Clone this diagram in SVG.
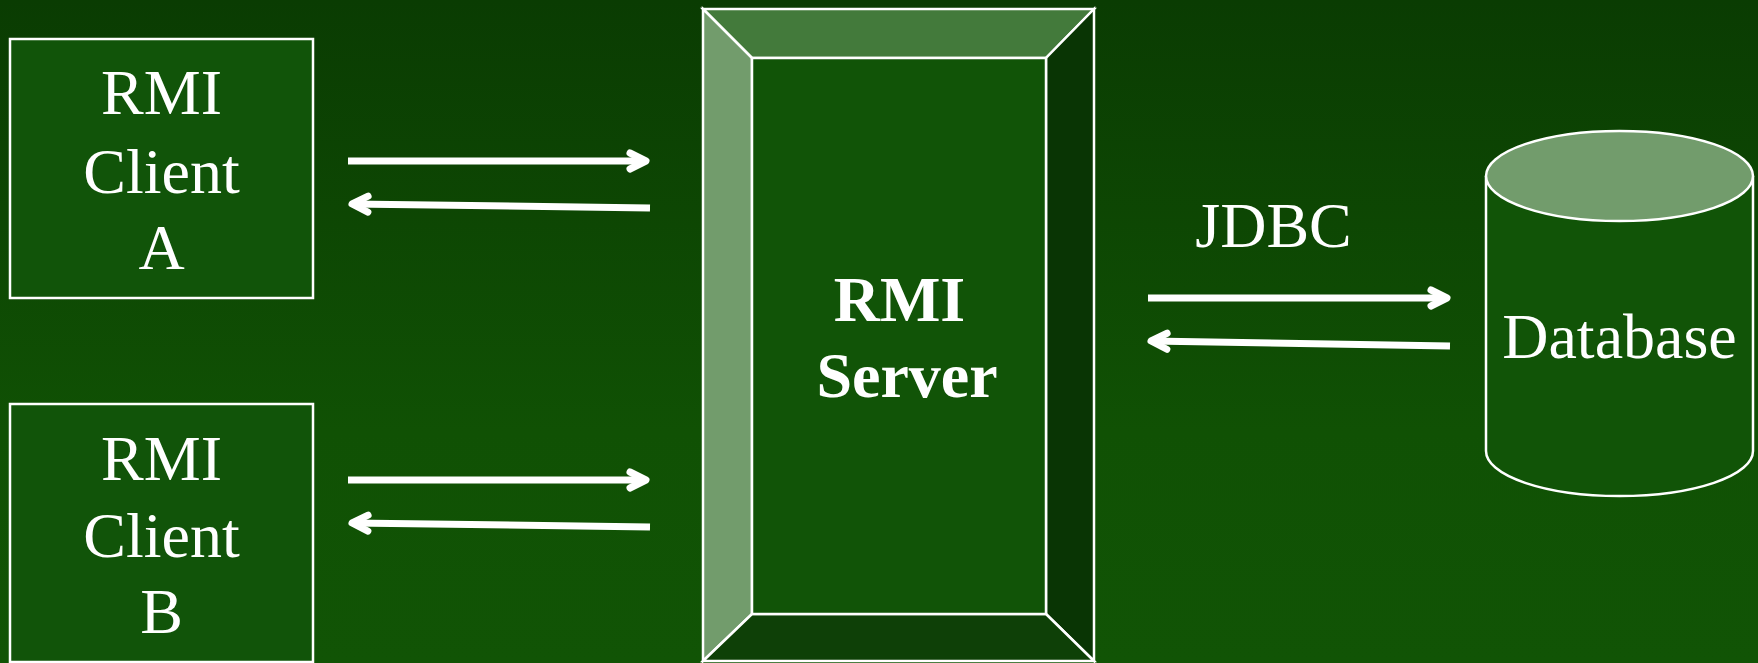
<svg xmlns="http://www.w3.org/2000/svg" width="1758" height="663" viewBox="0 0 1758 663">
<defs>
<linearGradient id="bg" x1="0" y1="0" x2="0" y2="1">
<stop offset="0" stop-color="#0a3c02"/>
<stop offset="0.65" stop-color="#105104"/>
<stop offset="1" stop-color="#115405"/>
</linearGradient>
<marker id="head" markerUnits="userSpaceOnUse" viewBox="-25 -15 30 30" refX="0" refY="0" markerWidth="30" markerHeight="30" orient="auto" overflow="visible">
<path d="M-16,-8 L0,0 L-16,8" fill="none" stroke="#ffffff" stroke-width="7" stroke-linecap="round" stroke-linejoin="round"/>
</marker>
</defs>
<style>
.box{fill:#115409;stroke:#ffffff;stroke-width:2.5}
.edge{stroke:#ffffff;stroke-width:2.5;stroke-linejoin:miter}
.lbl{font-family:"Liberation Serif","Times New Roman",serif;font-size:64px;fill:#ffffff;text-anchor:middle}
.bold{font-weight:bold}
.arrow{fill:none;stroke:#ffffff;stroke-width:7;marker-end:url(#head)}
</style>
<rect x="0" y="0" width="1758" height="663" fill="url(#bg)"/>

<g id="client-a">
<rect class="box" x="10" y="39" width="303" height="259"/>
<text class="lbl" x="161.5" y="114">RMI</text>
<text class="lbl" x="161.5" y="193">Client</text>
<text class="lbl" x="161.5" y="269">A</text>
</g>

<g id="client-b">
<rect class="box" x="10" y="404" width="303" height="258"/>
<text class="lbl" x="161.5" y="480">RMI</text>
<text class="lbl" x="161.5" y="557">Client</text>
<text class="lbl" x="161.5" y="633">B</text>
</g>

<g id="server">
<polygon class="edge" points="703,9 1094,9 1046,58 752,58" fill="#437a3b"/>
<polygon class="edge" points="703,9 752,58 752,614 703,661" fill="#729c6c"/>
<polygon class="edge" points="1094,9 1094,661 1046,614 1046,58" fill="#093504"/>
<polygon class="edge" points="752,614 1046,614 1094,661 703,661" fill="#0e4007"/>
<rect class="edge" x="752" y="58" width="294" height="556" fill="#115407"/>
<text class="lbl bold" x="899.5" y="321">RMI</text>
<text class="lbl bold" x="907" y="397">Server</text>
</g>

<g id="database">
<path d="M1486,176 L1486,451 A133.5,45 0 0 0 1753,451 L1753,176" fill="#115407" stroke="#ffffff" stroke-width="2.5"/>
<ellipse cx="1619.5" cy="176" rx="133.5" ry="45" fill="#729c6c" stroke="#ffffff" stroke-width="2.5"/>
<text class="lbl" x="1619.5" y="358">Database</text>
</g>

<g id="connectors">
<path class="arrow" d="M348,161 L646,161"/>
<path class="arrow" d="M650,208 L352,204"/>
<path class="arrow" d="M348,480 L646,480"/>
<path class="arrow" d="M650,527 L352,523"/>
<path class="arrow" d="M1148,298 L1447,298"/>
<path class="arrow" d="M1450,346 L1151,341"/>
<text class="lbl" x="1273.5" y="247">JDBC</text>
</g>
</svg>
